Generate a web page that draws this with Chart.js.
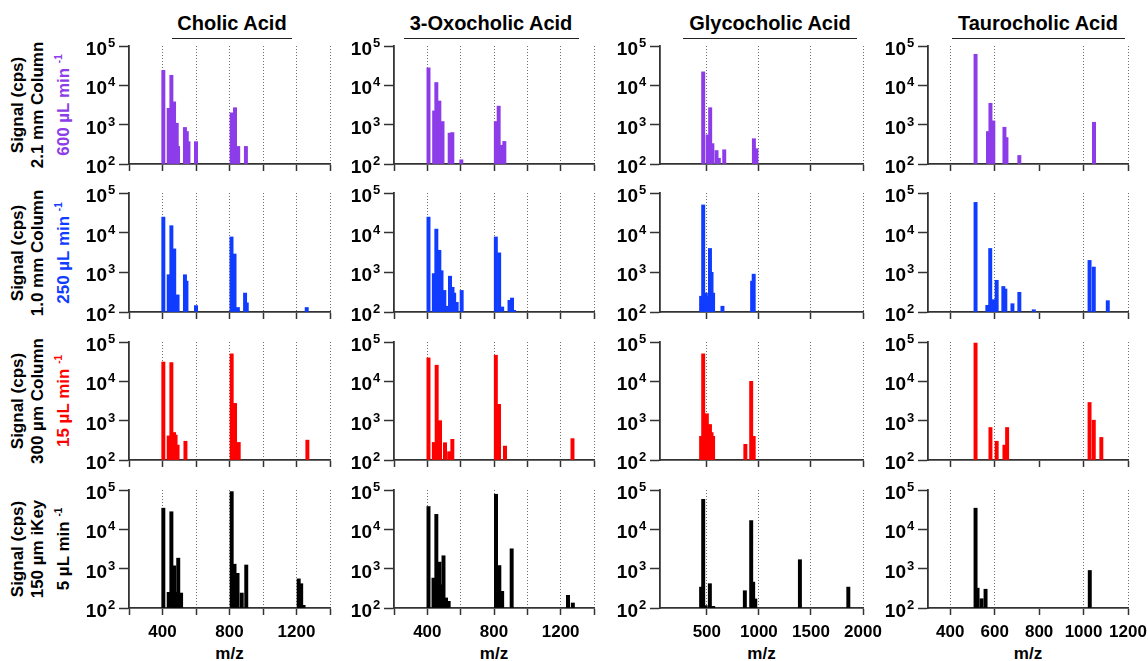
<!DOCTYPE html>
<html>
<head>
<meta charset="utf-8">
<script src="https://cdn.jsdelivr.net/npm/chart.js@4.4.0/dist/chart.umd.min.js"></script>
<style>
  body { margin: 0; background: #fff; width: 1148px; height: 661px; position: relative; overflow: hidden;
         font-family: "Liberation Sans", Arial, sans-serif; font-weight: bold; color: #000; }
  canvas { position: absolute; }
  .title { position: absolute; width: 260px; font-size: 20px; line-height: 24px; text-align: center; white-space: nowrap; }
  .rule { position: absolute; height: 0; border-top: 1.5px solid #222; }
  .rowlab { position: absolute; width: 180px; height: 20px; line-height: 20px; font-size: 17px;
            text-align: center; white-space: nowrap; transform: rotate(-90deg); }
  .rowlab sup { font-size: 10px; line-height: 0; vertical-align: 7px; }
  .xlab { position: absolute; width: 80px; font-size: 17px; line-height: 20px; text-align: center; }
</style>
</head>
<body>
<script>
// ── Labels ────────────────────────────────────────────────────────────────
const ACIDS = ['Cholic Acid', '3-Oxocholic Acid', 'Glycocholic Acid', 'Taurocholic Acid'];
const ROW_COLUMN = ['2.1 mm Column', '1.0 mm Column', '300 µm Column', '150 µm iKey'];
const ROW_FLOW = ['600 µL min', '250 µL min', '15 µL min', '5 µL min'];
const ROW_COLORS = ['#8c3ce8', '#0f3cff', '#ff0000', '#000000'];

// ── Axes ──────────────────────────────────────────────────────────────────
const Y_TICKS = [100, 1000, 10000, 100000];
const X_MIN = [200, 200, 50, 300];
const X_MAX = [1400, 1400, 2000, 1200];
const X_TICKS = [
  [200, 400, 600, 800, 1000, 1200, 1400],
  [200, 400, 600, 800, 1000, 1200, 1400],
  [500, 1000, 1500, 2000],
  [400, 600, 800, 1000, 1200],
];
const X_LABELS = [
  [400, 800, 1200],
  [400, 800, 1200],
  [500, 1000, 1500, 2000],
  [400, 600, 800, 1000, 1200],
];
const X_GRID = [
  [400, 600, 800, 1000, 1200, 1400],
  [400, 600, 800, 1000, 1200, 1400],
  [500, 1000, 1500, 2000],
  [400, 600, 1000, 1200],
];

// ── Spectra (m/z, signal in cps) ──────────────────────────────────────────
// 2.1 mm column, 600 µL/min
const ca600Mz  = [405, 437, 453, 469, 485, 493, 534, 545, 555, 600, 813, 833, 852, 898];
const ca600Int = [24000, 2600, 18000, 3800, 1090, 280, 850, 670, 370, 370, 2000, 2700, 280, 280];
const oxo600Mz  = [407, 441, 454, 472, 491, 534, 550, 604, 811, 828, 845, 862];
const oxo600Int = [27800, 2240, 11800, 4000, 1200, 610, 630, 128, 1200, 2960, 300, 375];
const gca600Mz  = [465, 508, 532, 553, 593, 615, 667, 952, 976];
const gca600Int = [22000, 550, 2700, 330, 220, 140, 230, 440, 245];
const tca600Mz  = [514, 570, 581, 594, 644, 653, 711, 1047];
const tca600Int = [61600, 670, 3500, 1250, 860, 470, 165, 1150];

// 1.0 mm column, 250 µL/min
const ca250Mz  = [405, 437, 453, 470, 482, 490, 534, 543, 600, 812, 830, 850, 893, 903, 1261];
const ca250Int = [24700, 870, 15000, 3900, 200, 270, 870, 600, 145, 7800, 2900, 130, 300, 170, 130];
const oxo250Mz  = [407, 439, 454, 472, 485, 502, 521, 536, 551, 561, 576, 606, 811, 831, 849, 893, 908, 921];
const oxo250Int = [24700, 930, 12300, 3600, 1100, 350, 140, 800, 420, 300, 175, 350, 7800, 3100, 134, 197, 225, 110];
const gca250Mz  = [445, 465, 490, 510, 530, 545, 560, 650, 935, 950];
const gca250Int = [250, 50000, 300, 250, 4000, 1000, 300, 140, 600, 900];
const tca250Mz  = [514, 567, 580, 593, 609, 639, 648, 680, 711, 776, 1027, 1046, 1109];
const tca250Int = [58000, 147, 4000, 205, 630, 440, 380, 162, 313, 114, 2000, 1360, 193];

// 300 µm column, 15 µL/min
const ca15Mz  = [405, 437, 453, 469, 478, 490, 537, 813, 833, 855, 1265];
const ca15Int = [31000, 410, 30000, 500, 430, 240, 300, 50000, 2750, 280, 320];
const oxo15Mz  = [407, 439, 456, 476, 506, 531, 550, 811, 830, 866, 1271];
const oxo15Int = [39500, 280, 25700, 1000, 275, 163, 335, 46000, 2600, 226, 350];
const gca15Mz  = [445, 465, 500, 530, 545, 560, 870, 926, 950];
const gca15Int = [400, 50000, 1500, 800, 500, 400, 250, 10000, 400];
const tca15Mz  = [514, 581, 609, 644, 656, 1027, 1046, 1080];
const tca15Int = [94000, 670, 300, 240, 670, 2900, 1030, 375];

// 150 µm iKey, 5 µL/min
const ca5Mz  = [405, 437, 453, 470, 480, 494, 511, 813, 830, 848, 873, 900, 1213, 1228, 1242];
const ca5Int = [34500, 250, 28000, 1180, 250, 1850, 240, 91000, 1300, 760, 240, 1240, 550, 415, 117];
const oxo5Mz  = [407, 437, 454, 473, 483, 497, 512, 528, 812, 832, 849, 906, 1244, 1273];
const oxo5Int = [38000, 576, 24000, 1470, 390, 2130, 180, 148, 78000, 1200, 265, 3200, 210, 134];
const gca5Mz  = [445, 465, 488, 529, 561, 865, 926, 945, 965, 1394, 1859];
const gca5Int = [340, 58000, 115, 415, 110, 275, 16700, 455, 170, 1690, 340];
const tca5Mz  = [514, 523, 541, 559, 1028];
const tca5Int = [34500, 320, 172, 300, 900];

const PANEL_MZ = [
  [ca600Mz, oxo600Mz, gca600Mz, tca600Mz],
  [ca250Mz, oxo250Mz, gca250Mz, tca250Mz],
  [ca15Mz, oxo15Mz, gca15Mz, tca15Mz],
  [ca5Mz, oxo5Mz, gca5Mz, tca5Mz],
];
const PANEL_INT = [
  [ca600Int, oxo600Int, gca600Int, tca600Int],
  [ca250Int, oxo250Int, gca250Int, tca250Int],
  [ca15Int, oxo15Int, gca15Int, tca15Int],
  [ca5Int, oxo5Int, gca5Int, tca5Int],
];

// ── Layout (pixels) ───────────────────────────────────────────────────────
const AXIS_L = [129, 394, 660, 928];
const AXIS_R = [330, 594, 863, 1128];
const ROW_T = [46, 193, 342, 490];
const ROW_B = [164, 312, 460, 608];
const PAD_L = 50, PAD_T = 14, PAD_R = 20, PAD_B = 40;
const FONT = '"Liberation Sans", Arial, sans-serif';
const AXIS_COLOR = '#333';

// "10" met exponent links van de y-as
const decadeLabels = {
  id: 'decadeLabels',
  afterDraw(chart) {
    const y = chart.scales.y, ctx = chart.ctx;
    const xr = chart.chartArea.left - 22;
    ctx.save();
    ctx.fillStyle = '#000';
    Y_TICKS.forEach(v => {
      const py = y.getPixelForValue(v);
      ctx.font = `bold 19px ${FONT}`;
      ctx.textAlign = 'right';
      ctx.textBaseline = 'alphabetic';
      ctx.fillText('10', xr, py + 9);
      ctx.font = `bold 13px ${FONT}`;
      ctx.textAlign = 'left';
      ctx.fillText(String(Math.round(Math.log10(v))), xr + 1, py + 1);
    });
    ctx.restore();
  },
};

function drawPanel(r, c) {
  const bottomRow = r === ROW_T.length - 1;
  const w = AXIS_R[c] - AXIS_L[c] + PAD_L + PAD_R;
  const h = ROW_B[r] - ROW_T[r] + PAD_T + PAD_B;
  const cv = document.createElement('canvas');
  cv.width = w; cv.height = h;
  cv.style.left = (AXIS_L[c] - PAD_L) + 'px';
  cv.style.top = (ROW_T[r] - PAD_T) + 'px';
  cv.style.width = w + 'px';
  cv.style.height = h + 'px';
  document.body.appendChild(cv);

  const mz = PANEL_MZ[r][c], ints = PANEL_INT[r][c];

  new Chart(cv, {
    type: 'bar',
    data: {
      datasets: [{
        data: mz.map((x, i) => ({ x, y: ints[i] })),
        backgroundColor: ROW_COLORS[r],
        borderWidth: 0,
        barThickness: 3.3,
        base: 100,
      }],
    },
    options: {
      responsive: false,
      animation: false,
      events: [],
      layout: { padding: { left: 0, top: PAD_T, right: PAD_R, bottom: 0 } },
      plugins: { legend: { display: false }, tooltip: { enabled: false } },
      scales: {
        x: {
          type: 'linear',
          min: X_MIN[c], max: X_MAX[c],
          offset: false,
          afterBuildTicks: s => { s.ticks = X_TICKS[c].map(v => ({ value: v })); },
          afterFit: s => { s.height = PAD_B; s.paddingLeft = 0; s.paddingRight = 0; },
          ticks: {
            display: bottomRow,
            autoSkip: false, maxRotation: 0, minRotation: 0, padding: 7,
            color: '#000',
            font: { family: FONT, size: 17, weight: 'bold' },
            callback: v => X_LABELS[c].includes(v) ? String(v) : '',
          },
          grid: {
            offset: false,
            drawOnChartArea: true,
            color: ctx => ctx.tick && X_GRID[c].includes(ctx.tick.value) ? '#6f6f6f' : 'rgba(0,0,0,0)',
            lineWidth: 1,
            tickColor: AXIS_COLOR, tickLength: 7, tickWidth: 1.5,
          },
          border: { display: true, color: AXIS_COLOR, width: 1.8, dash: [1, 2] },
        },
        y: {
          type: 'logarithmic',
          min: 100, max: 100000,
          afterBuildTicks: s => { s.ticks = Y_TICKS.map(v => ({ value: v })); },
          afterFit: s => { s.width = PAD_L; s.paddingTop = 0; s.paddingBottom = 0; },
          ticks: { display: false },
          grid: { drawOnChartArea: false, tickColor: AXIS_COLOR, tickLength: 10, tickWidth: 1.5 },
          border: { display: true, color: AXIS_COLOR, width: 1.8 },
        },
      },
    },
    plugins: [decadeLabels],
  });
}

// ── Kolomtitels ───────────────────────────────────────────────────────────
const TITLE_CX = [232, 491, 770, 1038];
const RULE_X = [[172, 292], [404, 579], [683, 857], [952, 1125]];
ACIDS.forEach((name, c) => {
  const t = document.createElement('div');
  t.className = 'title';
  t.textContent = name;
  t.style.left = (TITLE_CX[c] - 130) + 'px';
  t.style.top = '11px';
  document.body.appendChild(t);
  const line = document.createElement('div');
  line.className = 'rule';
  line.style.left = RULE_X[c][0] + 'px';
  line.style.width = (RULE_X[c][1] - RULE_X[c][0]) + 'px';
  line.style.top = '38px';
  document.body.appendChild(line);
});

// ── Rijlabels (gedraaid) ──────────────────────────────────────────────────
const LAB_CX = [17.5, 37.5, 63.5];
ROW_T.forEach((top, r) => {
  const cy = (top + ROW_B[r]) / 2;
  const lines = [
    ['Signal (cps)', '#000'],
    [ROW_COLUMN[r], '#000'],
    [ROW_FLOW[r] + ' <sup>-1</sup>', ROW_COLORS[r]],
  ];
  lines.forEach(([html, col], i) => {
    const d = document.createElement('div');
    d.className = 'rowlab';
    d.innerHTML = html;
    d.style.color = col;
    d.style.left = (LAB_CX[i] - 90) + 'px';
    d.style.top = (cy - 10) + 'px';
    document.body.appendChild(d);
  });
});

// ── m/z onder de onderste rij ─────────────────────────────────────────────
AXIS_L.forEach((l, c) => {
  const d = document.createElement('div');
  d.className = 'xlab';
  d.textContent = 'm/z';
  d.style.left = ((l + AXIS_R[c]) / 2 - 40) + 'px';
  d.style.top = '644px';
  document.body.appendChild(d);
});

for (let r = 0; r < 4; r++) {
  for (let c = 0; c < 4; c++) drawPanel(r, c);
}
</script>
</body>
</html>
